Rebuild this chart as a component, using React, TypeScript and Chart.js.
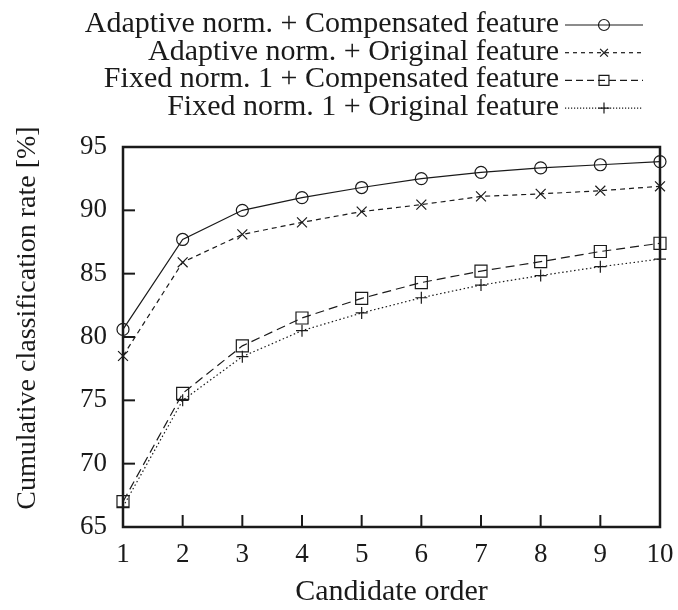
import React, { useEffect, useRef } from 'react';
import { Chart, registerables } from 'chart.js';
import { drawPoint } from 'chart.js/helpers';

Chart.register(...registerables);

const candidateOrder = [1, 2, 3, 4, 5, 6, 7, 8, 9, 10];
const adaptiveCompensated = [80.6, 87.7, 90.0, 91.0, 91.8, 92.5, 93.0, 93.35, 93.6, 93.85];
const adaptiveOriginal = [78.5, 85.9, 88.1, 89.05, 89.9, 90.45, 91.1, 91.3, 91.55, 91.9];
const fixedCompensated = [67.0, 75.55, 79.3, 81.5, 83.05, 84.3, 85.2, 85.95, 86.75, 87.4];
const fixedOriginal = [66.6, 75.0, 78.45, 80.5, 81.9, 83.1, 84.1, 84.85, 85.55, 86.15];
const seriesLabels = [
  'Adaptive norm. + Compensated feature',
  'Adaptive norm. + Original feature',
  'Fixed norm. 1 + Compensated feature',
  'Fixed norm. 1 + Original feature',
];
const yTitle = 'Cumulative classification rate [%]';
const xTitle = 'Candidate order';

const FONT = "'Liberation Serif', 'DejaVu Serif', serif";
const INK = '#1a1a1a';

const toPoints = (ys: number[]) => candidateOrder.map((x, i) => ({ x, y: ys[i] }));

const styles = [
  { pointStyle: 'circle', pointRadius: 6, borderDash: [] as number[], legendDash: [] as number[] },
  { pointStyle: 'crossRot', pointRadius: 7, borderDash: [5, 4], legendDash: [4, 4] },
  { pointStyle: 'rect', pointRadius: 8.5, borderDash: [9, 5], legendDash: [7, 4] },
  { pointStyle: 'cross', pointRadius: 6, borderDash: [1.5, 2.5], legendDash: [1.2, 1.8] },
];

const framePlugin = {
  id: 'frameAndLegend',
  afterDraw(chart: any) {
    const { ctx, chartArea, scales } = chart;
    const { left, right, top, bottom } = chartArea;
    ctx.save();
    ctx.strokeStyle = INK;
    // inner ticks
    ctx.lineWidth = 2;
    scales.x.ticks.forEach((t: any) => {
      const px = scales.x.getPixelForValue(t.value);
      ctx.beginPath();
      ctx.moveTo(px, bottom);
      ctx.lineTo(px, bottom - 12);
      ctx.stroke();
    });
    scales.y.ticks.forEach((t: any) => {
      const py = scales.y.getPixelForValue(t.value);
      ctx.beginPath();
      ctx.moveTo(left, py);
      ctx.lineTo(left + 12, py);
      ctx.stroke();
    });
    // frame
    ctx.lineWidth = 2.5;
    ctx.strokeRect(left, top, right - left, bottom - top);

    // y title
    ctx.fillStyle = INK;
    ctx.font = `28px ${FONT}`;
    ctx.textAlign = 'center';
    ctx.textBaseline = 'middle';
    ctx.save();
    ctx.translate(28, 318);
    ctx.rotate(-Math.PI / 2);
    ctx.fillText(yTitle, 0, 0);
    ctx.restore();

    // legend
    ctx.font = `30px ${FONT}`;
    ctx.textAlign = 'right';
    ctx.textBaseline = 'alphabetic';
    chart.data.datasets.forEach((ds: any, i: number) => {
      const y = 25 + i * 27.7;
      ctx.fillStyle = INK;
      ctx.fillText(ds.label, 559, y + 7);
      ctx.strokeStyle = INK;
      ctx.lineWidth = 1.2;
      ctx.setLineDash(styles[i].legendDash);
      ctx.beginPath();
      ctx.moveTo(565, y);
      ctx.lineTo(643, y);
      ctx.stroke();
      ctx.setLineDash([]);
      ctx.fillStyle = 'rgba(0,0,0,0)';
      drawPoint(ctx, {
        pointStyle: ds.pointStyle,
        rotation: 0,
        radius: i === 2 ? 7 : 5.5,
        borderWidth: 1.2,
      } as any, 604, y);
    });
    ctx.restore();
  },
};

export default function App() {
  const ref = useRef<HTMLCanvasElement>(null);
  useEffect(() => {
    document.body.style.margin = '0';
    const datasets = [adaptiveCompensated, adaptiveOriginal, fixedCompensated, fixedOriginal].map(
      (ys, i) => ({
        label: seriesLabels[i],
        data: toPoints(ys),
        borderColor: INK,
        backgroundColor: 'rgba(0,0,0,0)',
        pointBackgroundColor: 'rgba(0,0,0,0)',
        pointBorderColor: INK,
        borderWidth: 1.2,
        pointBorderWidth: 1.2,
        pointStyle: styles[i].pointStyle,
        pointRadius: styles[i].pointRadius,
        borderDash: styles[i].borderDash,
        tension: 0,
        clip: false as any,
      })
    );
    const chart = new Chart(ref.current!, {
      type: 'line',
      data: { datasets },
      plugins: [framePlugin],
      options: {
        responsive: false,
        animation: false,
        events: [],
        layout: { padding: { top: 147, right: 18, left: 0, bottom: 0 } },
        font: { family: FONT },
        plugins: { legend: { display: false }, tooltip: { enabled: false } },
        scales: {
          x: {
            type: 'linear',
            min: 1,
            max: 10,
            grid: { display: false, drawTicks: false },
            border: { display: false },
            ticks: { stepSize: 1, padding: 12, color: INK, font: { family: FONT, size: 27 } },
            title: { display: true, text: xTitle, color: INK, padding: 0, font: { family: FONT, size: 30 } },
            afterFit: (s: any) => { s.height = 83; s.paddingLeft = 0; s.paddingRight = 0; },
          },
          y: {
            type: 'linear',
            min: 65,
            max: 95,
            grid: { display: false, drawTicks: false },
            border: { display: false },
            ticks: { stepSize: 5, padding: 16, color: INK, font: { family: FONT, size: 27 } },
            afterFit: (s: any) => { s.width = 123; s.paddingTop = 0; s.paddingBottom = 0; },
          },
        },
      } as any,
    });
    return () => chart.destroy();
  }, []);
  return (
    <div style={{ width: 678, height: 610 }}>
      <canvas ref={ref} width={678} height={610} style={{ display: 'block' }} />
    </div>
  );
}
